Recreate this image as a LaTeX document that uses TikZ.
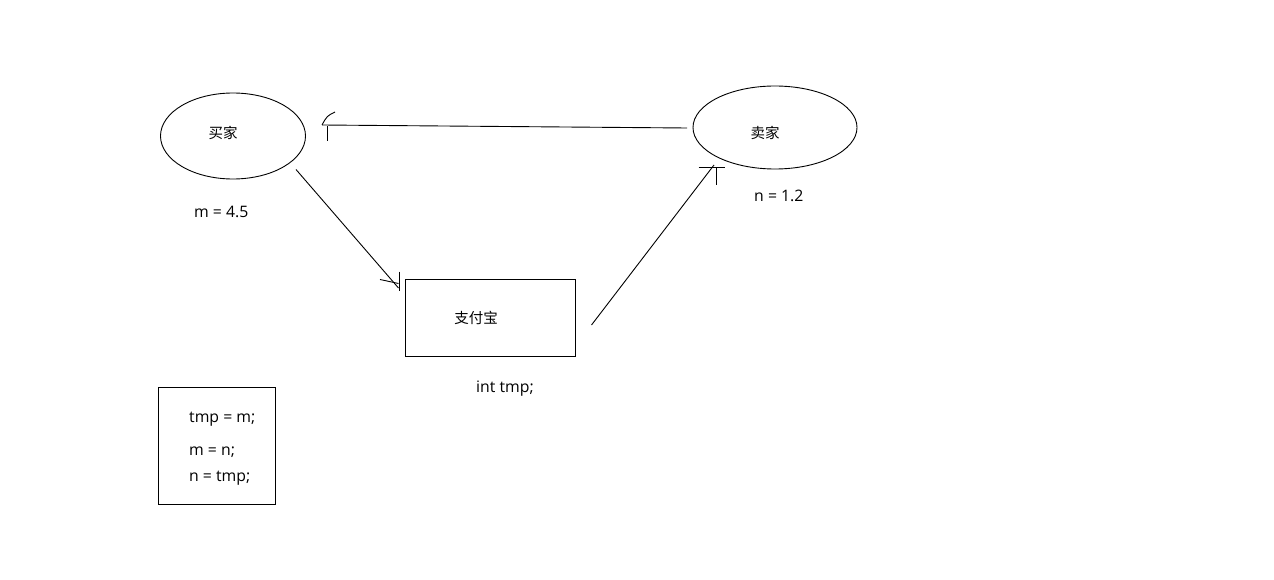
\documentclass[tikz,border=0pt]{standalone}
\usepackage{fontspec}
\setmainfont{Open Sans}
\newfontfamily\cjk{Noto Sans CJK SC}
\usetikzlibrary{shapes.geometric}
\begin{document}
\begin{tikzpicture}[x=1pt,y=-1pt,
  line/.style={draw=black,line width=0.9pt},
  txt/.style={font=\fontsize{15.8}{18}\selectfont,inner sep=0pt,anchor=west},
  cn/.style={font=\cjk\fontsize{14.5}{17}\selectfont,inner sep=0pt}]
\useasboundingbox (0,0) rectangle (1274,580);
% shapes
\node[line,ellipse,minimum width=145,minimum height=86,inner sep=0] (buyer) at (233,136) {};
\node[line,ellipse,minimum width=164,minimum height=83,inner sep=0] (seller) at (775,127.5) {};
\draw[line] (405,279) rectangle (575,356);
\node[minimum width=170,minimum height=77,inner sep=0] (alipay) at (490,317.5) {};
\draw[line] (158,387) rectangle (275,504);
\node[minimum width=117,minimum height=117,inner sep=0] (codebox) at (216.5,445.5) {};
% texts
\node[cn] (tb) at (223,132.5) {买家};
\node[cn] (ts) at (765,132.5) {卖家};
\node[cn] (ta) at (476,317.5) {支付宝};
\node[txt] (mv) at (194,212) {m = 4.5};
\node[txt] (nv) at (754,196) {n = 1.2};
\node[txt] (it) at (476,389) {int tmp;};
\node[txt] (c1) at (189,419) {tmp = m;};
\node[txt] (c2) at (189,452) {m = n;};
\node[txt] (c3) at (189,478) {n = tmp;};
% connector end points
\coordinate (s1) at (687,128);
\coordinate (e1) at (322,125);
\coordinate (s2) at (296,169.5);
\coordinate (e2) at (398.5,288);
\coordinate (s3) at (591.5,325);
\coordinate (e3) at (714,165);
% seller -> buyer
\draw[line] (s1) -- (e1);
\draw[line] (e1) .. controls (327,116) .. (335,112);
\draw[line] (327,126) -- (327,141.5);
% buyer -> alipay
\draw[line] (s2) -- (e2);
\draw[line] (399.5,271.5) -- (399.5,290.5);
\draw[line] (380,279.5) -- (387,281) -- (398.5,283.5);
% alipay -> seller
\draw[line] (s3) -- (e3);
\draw[line] (698.5,167.3) -- (725,167.3);
\draw[line] (716,167.3) -- (716,185);
\end{tikzpicture}
\end{document}
